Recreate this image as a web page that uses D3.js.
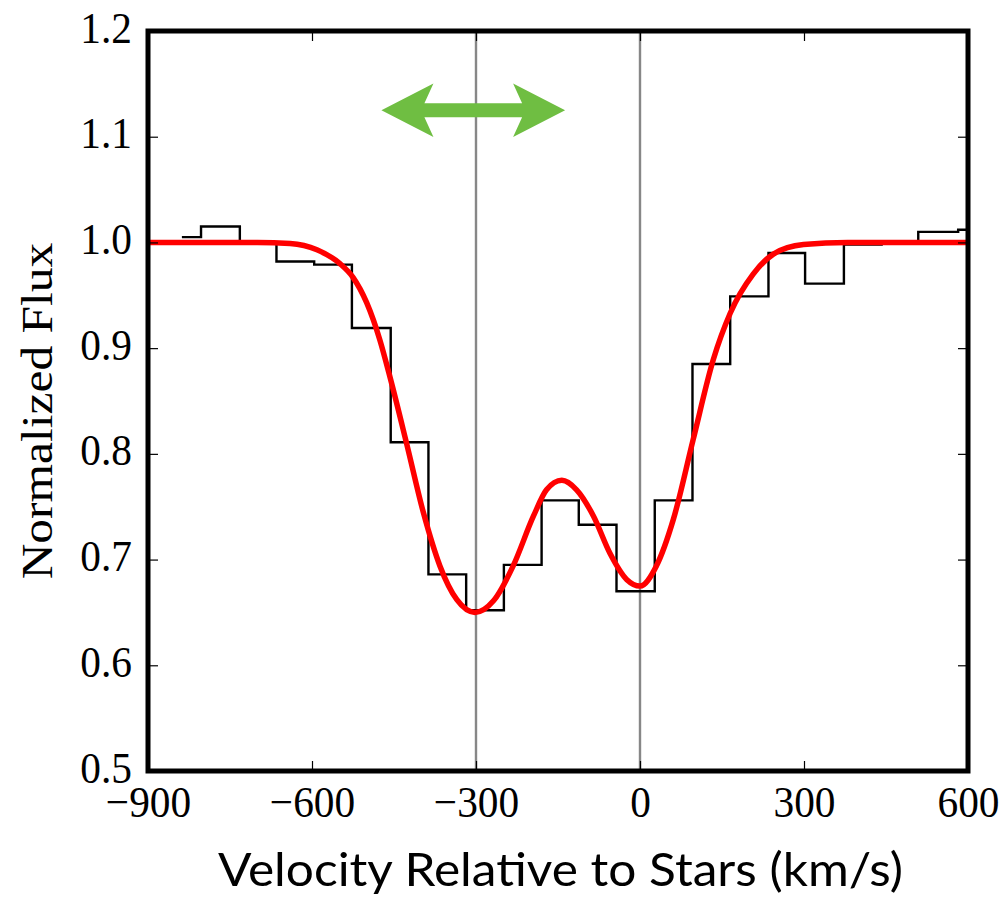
<!DOCTYPE html>
<html>
<head>
<meta charset="utf-8">
<script src="https://cdn.jsdelivr.net/npm/d3@7"></script>
<style>
  html, body { margin: 0; padding: 0; background: #fff; }
  svg { display: block; }
</style>
</head>
<body>
<svg id="chart" width="1004" height="898"></svg>
<script>
// ---------- data ----------
const binEdges = [-838, -803, -732, -665, -596, -527, -456, -387, -318, -249, -180, -112, -43, 27, 96, 165, 235, 302, 373, 442, 509, 582, 620];
const binFlux  = [1.005, 1.015, 1.000, 0.982, 0.979, 0.919, 0.811, 0.686, 0.652, 0.695, 0.756, 0.733, 0.670, 0.756, 0.885, 0.949, 0.990, 0.961, 0.998, 1.000, 1.010, 1.012];

const modelVelocity = [-900, -700, -640, -591, -549, -525, -500, -476, -457, -427, -396, -366, -335, -302, -268, -232, -195, -171, -143, -116, -85, -55, -24, 0, 30, 61, 97, 134, 165, 207, 244, 299, 380, 600];
const modelFlux     = [1.000, 1.000, 0.999, 0.993, 0.980, 0.967, 0.943, 0.908, 0.872, 0.810, 0.744, 0.694, 0.662, 0.650, 0.661, 0.694, 0.741, 0.766, 0.775, 0.766, 0.741, 0.706, 0.681, 0.675, 0.694, 0.738, 0.813, 0.889, 0.933, 0.970, 0.989, 0.998, 1.000, 1.000];

const markerVelocities = [-300, 0];
const arrowSpan = [-473, -137];
const arrowFlux = 1.125;

const xTicks = [-900, -600, -300, 0, 300, 600];
const yTicks = [0.5, 0.6, 0.7, 0.8, 0.9, 1.0, 1.1, 1.2];
const xDomain = [-900, 600];
const yDomain = [0.5, 1.2];

const xTitle = "Velocity Relative to Stars (km/s)";
const yTitle = "Normalized Flux";

// ---------- layout ----------
const L = 148, R = 968, T = 31, B = 771;
const svg = d3.select("#chart");
const x = d3.scaleLinear().domain(xDomain).range([L, R]);
const y = d3.scaleLinear().domain(yDomain).range([B, T]);

svg.append("defs").append("clipPath").attr("id", "plotclip")
  .append("rect").attr("x", L).attr("y", T).attr("width", R - L).attr("height", B - T);

const plot = svg.append("g").attr("clip-path", "url(#plotclip)");

// marker lines
plot.selectAll("line.marker").data(markerVelocities).enter().append("line")
  .attr("class", "marker")
  .attr("x1", d => x(d)).attr("x2", d => x(d))
  .attr("y1", T).attr("y2", B)
  .attr("stroke", "#878787").attr("stroke-width", 2.4);

// histogram
const stepPts = binFlux.map((f, i) => [binEdges[i], f]);
stepPts.push([binEdges[binEdges.length - 1], binFlux[binFlux.length - 1]]);
plot.append("path")
  .datum(stepPts)
  .attr("d", d3.line().x(d => x(d[0])).y(d => y(d[1])).curve(d3.curveStepAfter))
  .attr("fill", "none").attr("stroke", "#000").attr("stroke-width", 2.4)
  .attr("stroke-linejoin", "miter");

// model curve
const modelPts = modelVelocity.map((v, i) => [v, modelFlux[i]]);
plot.append("path")
  .datum(modelPts)
  .attr("d", d3.line().x(d => x(d[0])).y(d => y(d[1])).curve(d3.curveMonotoneX))
  .attr("fill", "none").attr("stroke", "#ff0000").attr("stroke-width", 5.5)
  .attr("stroke-linejoin", "round");

// green double arrow
(function () {
  const xl = x(arrowSpan[0]), xr = x(arrowSpan[1]), yc = y(arrowFlux);
  const headLen = 52, notch = 43, barbH = 26.7, shaftH = 7;
  const pts = [
    [xl, yc],
    [xl + headLen, yc - barbH],
    [xl + notch, yc - shaftH],
    [xr - notch, yc - shaftH],
    [xr - headLen, yc - barbH],
    [xr, yc],
    [xr - headLen, yc + barbH],
    [xr - notch, yc + shaftH],
    [xl + notch, yc + shaftH],
    [xl + headLen, yc + barbH]
  ];
  svg.append("path")
    .attr("d", d3.line()(pts) + "Z")
    .attr("fill", "#6fbe42");
})();

// ---------- axes ----------
const fontSerif = "Liberation Serif, Times New Roman, serif";
const tickScale = "scale(0.94,1)";

const xAxis = svg.append("g").attr("transform", `translate(0,${B})`)
  .call(d3.axisBottom(x).tickValues(xTicks).tickSizeInner(-10).tickSizeOuter(0).tickFormat(d3.format("d")));
xAxis.attr("font-family", fontSerif).attr("font-size", 44);
xAxis.select(".domain").remove();
xAxis.selectAll("line").attr("stroke", "#000").attr("stroke-width", 1.2);
xAxis.selectAll("text")
  .attr("y", 46).attr("dy", null)
  .attr("transform", tickScale)
  .attr("fill", "#000");

const xAxisTop = svg.append("g").attr("transform", `translate(0,${T})`)
  .call(d3.axisTop(x).tickValues(xTicks).tickSizeInner(-10).tickSizeOuter(0).tickFormat(""));
xAxisTop.select(".domain").remove();
xAxisTop.selectAll("line").attr("stroke", "#000").attr("stroke-width", 1.2);

const yAxis = svg.append("g").attr("transform", `translate(${L},0)`)
  .call(d3.axisLeft(y).tickValues(yTicks).tickSizeInner(-10).tickSizeOuter(0).tickFormat(d3.format(".1f")));
yAxis.attr("font-family", fontSerif).attr("font-size", 44);
yAxis.select(".domain").remove();
yAxis.selectAll("line").attr("stroke", "#000").attr("stroke-width", 1.2);
yAxis.selectAll("text")
  .attr("x", -17).attr("y", 11).attr("dy", null)
  .attr("transform", tickScale)
  .attr("fill", "#000");

const yAxisRight = svg.append("g").attr("transform", `translate(${R},0)`)
  .call(d3.axisRight(y).tickValues(yTicks).tickSizeInner(-10).tickSizeOuter(0).tickFormat(""));
yAxisRight.select(".domain").remove();
yAxisRight.selectAll("line").attr("stroke", "#000").attr("stroke-width", 1.2);

// frame
svg.append("rect")
  .attr("x", L).attr("y", T).attr("width", R - L).attr("height", B - T)
  .attr("fill", "none").attr("stroke", "#000").attr("stroke-width", 5);

// titles
svg.append("text")
  .attr("x", 560.5).attr("y", 886)
  .attr("text-anchor", "middle")
  .attr("textLength", 685).attr("lengthAdjust", "spacingAndGlyphs")
  .attr("font-family", "Lato, Open Sans, sans-serif")
  .attr("font-size", 47).attr("fill", "#000")
  .text(xTitle);

svg.append("text")
  .attr("transform", "translate(52,411) rotate(-90) scale(1,0.9)")
  .attr("text-anchor", "middle")
  .attr("font-family", fontSerif)
  .style("font-family", fontSerif)
  .attr("font-size", 49.5).attr("fill", "#000")
  .text(yTitle);
</script>
</body>
</html>
